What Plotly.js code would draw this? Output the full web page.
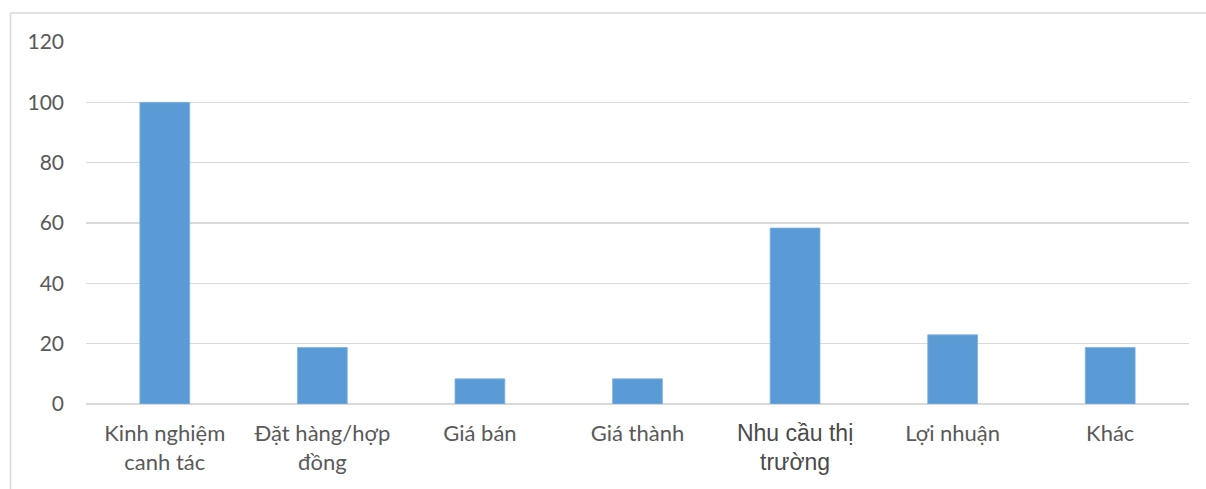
<!DOCTYPE html>
<html>
<head>
<meta charset="utf-8">
<script src="https://cdn.plot.ly/plotly-3.0.1.min.js"></script>
<style>
  html, body { margin: 0; padding: 0; background: #ffffff; }
  #chart { width: 1206px; height: 489px; }
</style>
</head>
<body>
<div id="chart"></div>
<script>
// Factors considered when choosing what to grow (%)
const categories = [
  "Kinh nghiệm<br>canh tác",
  "Đặt hàng/hợp<br>đồng",
  "Giá bán",
  "Giá thành",
  "<span style=\"font-family:'Liberation Sans';font-size:23px;color:#4a4a4a\">Nhu cầu thị<br>trường</span>",
  "Lợi nhuận",
  "Khác"
];
const values = [100, 18.75, 8.33, 8.33, 58.33, 22.92, 18.75];
const yTicks = [0, 20, 40, 60, 80, 100, 120];

const W = 1206, H = 489;
const M = { l: 86, r: 17, t: 42, b: 85 };
const pw = W - M.l - M.r, ph = H - M.t - M.b;
// outer frame position in pixels, converted to paper units
const px = v => (v - M.l) / pw;
const py = v => (H - M.b - v) / ph;

const trace = {
  type: "bar",
  x: categories,
  y: values,
  marker: { color: "#5b9bd5", line: { color: "#7fb0e0", width: 0.8 } },
  hoverinfo: "x+y"
};

const layout = {
  width: W,
  height: H,
  margin: M,
  paper_bgcolor: "#ffffff",
  plot_bgcolor: "#ffffff",
  bargap: 0.684,
  showlegend: false,
  font: { family: "Lato, 'Open Sans', sans-serif", size: 21, color: "#595959" },
  xaxis: {
    type: "category",
    showgrid: false,
    showline: false,
    zeroline: false,
    ticks: "",
    ticklabelstandoff: 14,
    tickfont: { family: "Lato, sans-serif", size: 22, color: "#595959" }
  },
  yaxis: {
    range: [0, 120],
    tickvals: yTicks,
    ticktext: yTicks.map(String),
    showgrid: true,
    gridcolor: "#d9d9d9",
    gridwidth: 1.5,
    zeroline: true,
    zerolinecolor: "#d9d9d9",
    zerolinewidth: 1.5,
    showline: false,
    ticks: "",
    ticklabelstandoff: 21,
    tickfont: { family: "Lato, sans-serif", size: 21, color: "#595959" }
  },
  shapes: [{
    type: "rect",
    xref: "paper", yref: "paper",
    x0: px(10.5), x1: px(1215),
    y0: py(500), y1: py(13),
    line: { color: "#d9d9d9", width: 1.5 },
    fillcolor: "rgba(0,0,0,0)",
    layer: "below"
  }]
};

Plotly.newPlot("chart", [trace], layout, { displayModeBar: false, staticPlot: true });
</script>
</body>
</html>
